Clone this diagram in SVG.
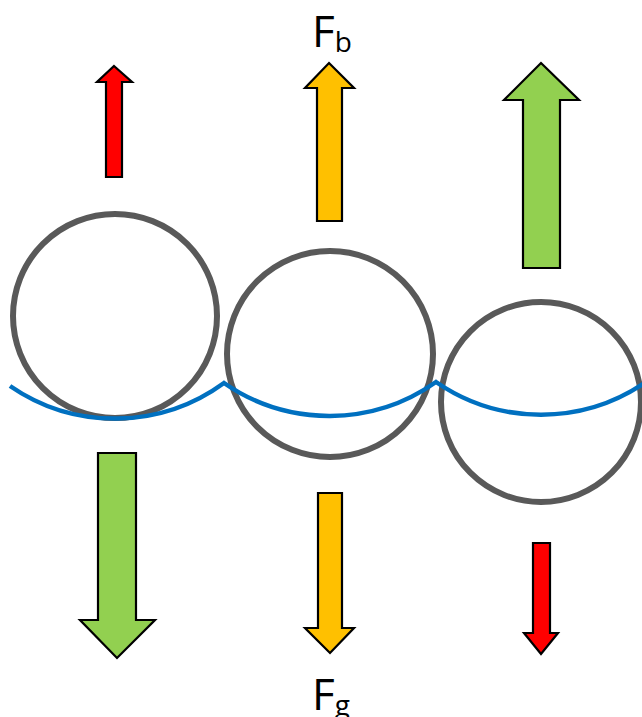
<svg xmlns="http://www.w3.org/2000/svg" width="642" height="717" viewBox="0 0 642 717">
<style>
.ball{fill:none;stroke:#595959;stroke-width:6}
.arr{stroke:#000;stroke-width:2.2;stroke-linejoin:miter}
.red{fill:#FF0000}
.yel{fill:#FFC000}
.grn{fill:#92D050}
.lbl{font-family:"Open Sans","Liberation Sans",sans-serif;fill:#000}
.water{fill:none;stroke:#0070C0;stroke-width:4.5;stroke-linejoin:miter}
</style>
<rect width="642" height="717" fill="#fff"/>
<g id="ball1"><circle class="ball" cx="115" cy="316" r="102"/></g>
<g id="ball2"><circle class="ball" cx="330" cy="354" r="103"/></g>
<g id="ball3"><circle class="ball" cx="541" cy="402" r="100"/></g>
<g id="connectors">
<path class="water" d="M10,386 A185,185 0 0 0 224,383 A185,185 0 0 0 436,382 A185,185 0 0 0 646,382"/>
</g>
<g id="arrow-up-red"><polygon class="arr red" points="114,66 132,82 122,82 122,177 106,177 106,82 97,82"/></g>
<g id="arrow-up-yellow"><polygon class="arr yel" points="329,63 354,88 342,88 342,221 317,221 317,88 305,88"/></g>
<g id="arrow-up-green"><polygon class="arr grn" points="541,63 579,100 560,100 560,268 523,268 523,100 504,100"/></g>
<g id="arrow-down-green"><polygon class="arr grn" points="98,453 136,453 136,620 155,620 117,658 80,620 98,620"/></g>
<g id="arrow-down-yellow"><polygon class="arr yel" points="318,493 342,493 342,628 354,628 330,653 305,628 318,628"/></g>
<g id="arrow-down-red"><polygon class="arr red" points="533,543 550,543 550,633 558,633 541,654 524,633 533,633"/></g>
<g id="label-fb"><text class="lbl" x="312" y="47" font-size="44">F<tspan font-size="28" dy="5">b</tspan></text></g>
<g id="label-fg"><text class="lbl" x="312" y="710" font-size="44">F<tspan font-size="28" dy="5">g</tspan></text></g>
</svg>
